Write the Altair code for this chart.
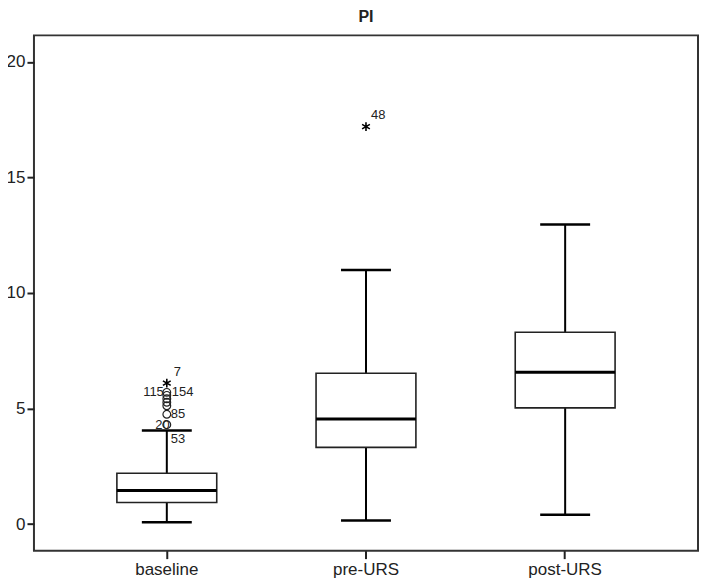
import altair as alt
import pandas as pd

# ---- data ----
categories = ["baseline", "pre-URS", "post-URS"]
lower = [0.08, 0.15, 0.40]
q1 = [0.93, 3.32, 5.03]
median = [1.45, 4.55, 6.57]
q3 = [2.20, 6.53, 8.30]
upper = [4.05, 11.00, 12.97]

outlier_cat = ["baseline"] * 7
outlier_val = [4.30, 4.75, 5.12, 5.27, 5.42, 5.57, 5.70]

extreme_cat = ["baseline", "pre-URS"]
extreme_val = [6.10, 17.20]

label_text = ["7", "115", "154", "85", "20", "53", "48"]
label_cat = ["baseline", "baseline", "baseline", "baseline", "baseline", "baseline", "pre-URS"]
label_val = [6.10, 5.70, 5.70, 4.75, 4.30, 4.30, 17.20]
# label placement styling (pixel offsets, alignment)
label_dx = [7, -3, 5, 4, 3, 4, 5]
label_dy = [-11, 0, 0, 0, 0, 14, -12]
label_align = ["left", "right", "left", "left", "right", "left", "left"]

box_df = pd.DataFrame({"cat": categories, "lower": lower, "q1": q1,
                       "median": median, "q3": q3, "upper": upper})
out_df = pd.DataFrame({"cat": outlier_cat, "v": outlier_val})
ext_df = pd.DataFrame({"cat": extreme_cat, "v": extreme_val})

FONT = "Liberation Sans"
x_enc = alt.X("cat:N", sort=categories,
              scale=alt.Scale(paddingInner=0, paddingOuter=0.167),
              axis=alt.Axis(title=None, labelAngle=0, domain=False, tickSize=8,
                            tickColor="#222", tickWidth=2, labelPadding=3,
                            labelFont=FONT, labelFontSize=17, labelColor="#222"))
y_scale = alt.Scale(domain=[-1.15, 21.15], nice=False, zero=False)
y_axis = alt.Axis(title=None, values=[0, 5, 10, 15, 20], grid=False, domain=False,
                  tickSize=7, tickColor="#222", tickWidth=2, labelPadding=2,
                  labelFont=FONT, labelFontSize=17, labelColor="#222")

base = alt.Chart(box_df)

w_low = base.mark_rule(color="black", strokeWidth=2).encode(
    x=x_enc, y=alt.Y("lower:Q", scale=y_scale, axis=y_axis), y2="q1:Q")
w_up = base.mark_rule(color="black", strokeWidth=2).encode(
    x=x_enc, y=alt.Y("q3:Q", scale=y_scale), y2="upper:Q")
cap_low = base.mark_tick(color="black", size=50, thickness=2.5, opacity=1).encode(
    x=x_enc, y=alt.Y("lower:Q", scale=y_scale))
cap_up = base.mark_tick(color="black", size=50, thickness=2.5, opacity=1).encode(
    x=x_enc, y=alt.Y("upper:Q", scale=y_scale))
box = base.mark_bar(width=100, fill="white", stroke="#222", strokeWidth=1.6).encode(
    x=x_enc, y=alt.Y("q1:Q", scale=y_scale), y2="q3:Q")
med = base.mark_tick(color="black", size=100, thickness=3, opacity=1).encode(
    x=x_enc, y=alt.Y("median:Q", scale=y_scale))

outs = alt.Chart(out_df).mark_point(shape="circle", filled=False, color="#222",
                                    size=60, strokeWidth=1.2, opacity=1).encode(
    x=x_enc, y=alt.Y("v:Q", scale=y_scale))

ASTER = "M0,-1L0,1M-0.87,-0.5L0.87,0.5M-0.87,0.5L0.87,-0.5"
exts = alt.Chart(ext_df).mark_point(shape=ASTER, filled=False, color="black",
                                    size=80, strokeWidth=1.6, opacity=1).encode(
    x=x_enc, y=alt.Y("v:Q", scale=y_scale))

layers = [w_low, w_up, box, med, cap_low, cap_up, outs, exts]
for t, c, v, dx, dy, al in zip(label_text, label_cat, label_val, label_dx, label_dy, label_align):
    d = pd.DataFrame({"cat": [c], "v": [v], "t": [t]})
    layers.append(alt.Chart(d).mark_text(font=FONT, fontSize=13, color="#222", dx=dx, dy=dy,
                                         align=al, baseline="middle").encode(
        x=x_enc, y=alt.Y("v:Q", scale=y_scale), text="t:N"))

chart = alt.layer(*layers).properties(
    width=665, height=516,
    title=alt.TitleParams("PI", font=FONT, fontSize=16, fontWeight="bold",
                          color="#222", anchor="middle", offset=10),
    autosize=alt.AutoSizeParams(type="none"),
    padding={"left": 26, "top": 27, "right": 2, "bottom": 29},
).configure_view(stroke="#333", strokeWidth=2)

chart.save("out.html", embed_options={"renderer": "svg", "actions": False})
